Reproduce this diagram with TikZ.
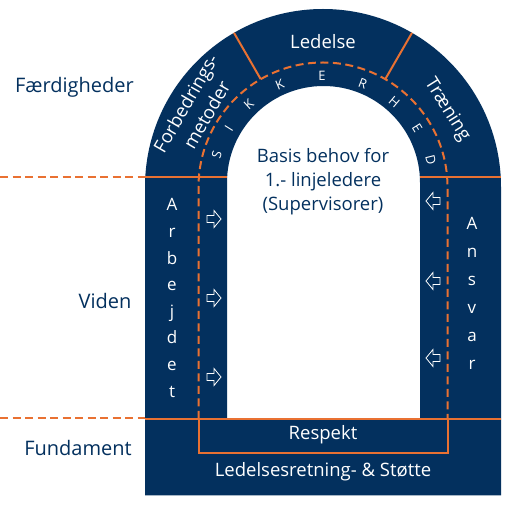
\documentclass[tikz,border=0pt]{standalone}
\usepackage{fontspec}
\setmainfont{Open Sans}
\definecolor{navy}{HTML}{03305E}
\definecolor{accent}{HTML}{E97132}
\tikzset{
  body/.style={fill=navy, even odd rule},
  sep/.style={draw=accent, line width=2pt},
  dashline/.style={draw=accent, line width=2pt, dash pattern=on 8pt off 4.5pt},
  lbl/.style={text=navy, font=\fontsize{20}{24}\selectfont},
  wtxt/.style={text=white, font=\fontsize{18.5}{24}\selectfont, align=center},
  rtxt/.style={wtxt, inner sep=0pt},
  inner/.style={text=navy, font=\fontsize{18.5}{24}\selectfont, align=center},
  ltr/.style={text=white, font=\fontsize{17}{20}\selectfont, anchor=base},
  safety/.style={text=white, font=\fontsize{13}{14}\selectfont, inner sep=0pt},
  arrowbox/.style={draw=white, fill=navy, line width=0.8pt, line join=miter},
  rarr/.pic={\path[arrowbox] (-7,-3.5) -- (0,-3.5) -- (0,-8.5) -- (7,0) -- (0,8.5) -- (0,3.5) -- (-7,3.5) -- cycle;}
}
\begin{document}
\begin{tikzpicture}[x=1pt,y=1pt]
\useasboundingbox (0,0) rectangle (512,506);
\coordinate (C) at (323,319);
% arch body
\path[body] (145,10.5) -- (145,319) arc[start angle=180,end angle=0,radius=178] -- (501,10.5) -- cycle
  (227,87) -- (227,323.5) arc[start angle=180,end angle=0,radius=96.5] -- (420,87) -- cycle;
% dashed safety line
\path[dashline] (198.5,87) -- (198.5,319) arc[start angle=180,end angle=0,radius=124.5] -- (447.5,87);
% sector separators
\draw[sep] ([shift={(120:124.5)}]C) -- ([shift={(120:178)}]C);
\draw[sep] ([shift={(60:124.5)}]C) -- ([shift={(60:178)}]C);
% level lines
\coordinate (ta) at (0,328.5);
\coordinate (tb) at (145,328.5);
\coordinate (tc) at (227,328.5);
\coordinate (td) at (420,328.5);
\coordinate (te) at (501,328.5);
\draw[dashline] (ta) -- (tb);
\draw[sep] (tb) -- (tc);
\draw[sep] (td) -- (te);
\coordinate (ba) at (0,87.5);
\coordinate (bb) at (145,87);
\coordinate (be) at (501,87);
\draw[dashline] (ba) -- (145,87.5);
\draw[sep] (bb) -- (be);
% Respekt box
\draw[sep] (198.5,87) rectangle (448,53.3);
% side labels
\node[lbl] (faerd) at (74.5,419) {Færdigheder};
\node[lbl] (viden) at (105,205) {Viden};
\node[lbl] (fund) at (78,58) {Fundament};
% arch labels
\node[wtxt] (ledelse) at (323,464) {Ledelse};
\node[rtxt, rotate=60] (forb) at (196,397) {Forbedrings-\\metoder};
\node[rtxt, rotate=-58] (trae) at (447,396) {Træning};
\node[inner] (basis) at (323,324) {Basis behov for\\1.- linjeledere\\(Supervisorer)};
\node[wtxt] (resp) at (323,71) {Respekt};
\node[wtxt] (stotte) at (323,34) {Ledelsesretning- \& Støtte};
% pillar letters
\foreach \l [count=\i from 0] in {A,r,b,e,j,d,e,t}
  \node[ltr] (arb\i) at (172,295-26.6*\i) {\l};
\foreach \l [count=\i from 0] in {A,n,s,v,a,r}
  \node[ltr] (ans\i) at (472,276.5-28*\i) {\l};
% SIKKERHED
\foreach \l/\a [count=\i] in {S/163,I/148,K/132,K/113,E/90.5,R/69,H/50,E/32,D/14}
  \node[safety, rotate=\a-90] (sik\i) at ([shift={(\a:111)}]C) {\l};
% arrows
\pic (ra1) at (214,287) {rarr};
\pic (ra2) at (214,208) {rarr};
\pic (ra3) at (214,129) {rarr};
\pic[xscale=-1] (la1) at (433,305) {rarr};
\pic[xscale=-1] (la2) at (433,225) {rarr};
\pic[xscale=-1] (la3) at (433,148) {rarr};
\end{tikzpicture}
\end{document}
